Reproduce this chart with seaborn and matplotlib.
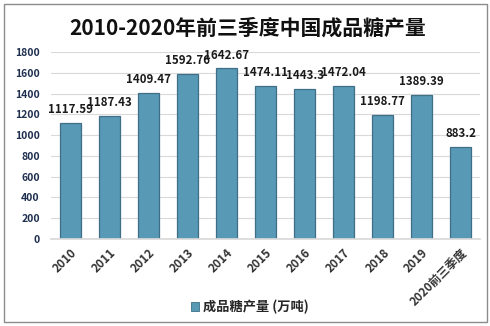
import matplotlib
matplotlib.use("Agg")
import matplotlib.pyplot as plt
import seaborn as sns
import pandas as pd
from matplotlib.patches import Rectangle, Patch

years = ["2010", "2011", "2012", "2013", "2014", "2015", "2016", "2017", "2018", "2019", "2020前三季度"]
output = [1117.59, 1187.43, 1409.47, 1592.76, 1642.67, 1474.11, 1443.3, 1472.04, 1198.77, 1389.39, 883.2]
value_labels = ["1117.59", "1187.43", "1409.47", "1592.76", "1642.67", "1474.11", "1443.3", "1472.04", "1198.77", "1389.39", "883.2"]
yticks = [0, 200, 400, 600, 800, 1000, 1200, 1400, 1600, 1800]
title = "2010-2020年前三季度中国成品糖产量"
legend_label = "成品糖产量 (万吨)"

sns.set_theme(style="white")
plt.rcParams['font.family'] = ['Noto Sans CJK SC', 'DejaVu Sans']

df = pd.DataFrame({"year": years, "value": output})

fig = plt.figure(figsize=(4.9, 3.26), dpi=100)
ax = fig.add_axes([0.104, 0.267, 0.876, 0.573])

sns.barplot(data=df, x="year", y="value", ax=ax, color="#5899b6", width=0.54,
            edgecolor="#3e6f87", linewidth=0.9, saturation=1)

ax.set_ylim(0, 1800)
ax.set_xlim(-0.5, len(years) - 0.5)
ax.set_yticks(yticks)
ax.set_yticklabels([str(t) for t in yticks], fontsize=7.5, fontweight="bold", color="#1f2f4f")
ax.yaxis.grid(True, color="#d9d9d9", linewidth=0.8)
ax.set_axisbelow(True)
for s in ["top", "right", "left"]:
    ax.spines[s].set_visible(False)
ax.spines["bottom"].set_color("#d9d9d9")
ax.tick_params(axis="y", length=0, pad=8)
ax.tick_params(axis="x", length=0, pad=5)
ax.set_xticks(range(len(years)))
ax.set_xticklabels(years, rotation=45, ha="right", rotation_mode="anchor",
                   fontsize=8.5, fontweight="bold", color="#333333")
ax.set_xlabel("")
ax.set_ylabel("")

for i, (v, lab) in enumerate(zip(output, value_labels)):
    ax.annotate(lab, (i, v), xytext=(0, 5), textcoords="offset points",
                ha="center", va="bottom", fontsize=8.3, fontweight="bold", color="#1a1a1a")

fig.text(0.505, 0.913, title, ha="center", va="center", fontsize=15, fontweight="bold", color="#111111")

handle = Patch(facecolor="#5899b6", edgecolor="#3e6f87", linewidth=0.6)
fig.legend([handle], [legend_label], loc="center", bbox_to_anchor=(0.51, 0.058),
           frameon=False, prop={"size": 9.5, "weight": "bold"}, handlelength=0.6, handleheight=0.6,
           handletextpad=0.3)

fig.patches.append(Rectangle((0.008, 0.012), 0.985, 0.975, transform=fig.transFigure,
                             fill=False, edgecolor="#8c8c8c", linewidth=1.0))

fig.savefig("out.png", dpi=100)
